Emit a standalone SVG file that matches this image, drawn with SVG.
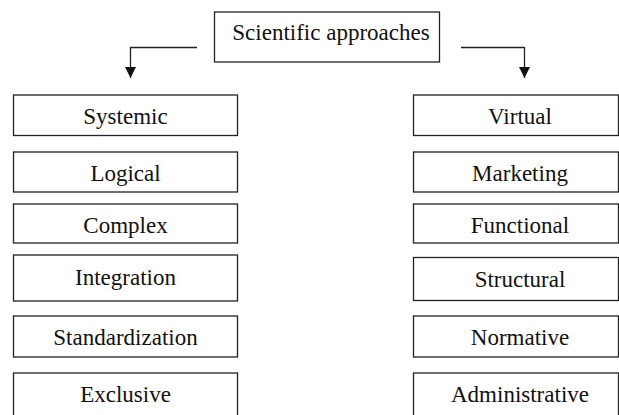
<svg xmlns="http://www.w3.org/2000/svg" width="619" height="415" viewBox="0 0 619 415">
<defs>
<style>
.box{fill:#fff;stroke:#222;stroke-width:1.3}
.lbl{font-family:"Liberation Serif","Times New Roman",serif;font-size:23px;fill:#111;text-anchor:middle}
.con{fill:none;stroke:#222;stroke-width:1.3}
</style>
<marker id="ah" viewBox="0 0 10 10" refX="10" refY="5" markerWidth="11" markerHeight="11" markerUnits="userSpaceOnUse" orient="auto">
<path d="M0,0 L10,5 L0,10 Z" fill="#111"/>
</marker>
</defs>
<rect width="619" height="415" fill="#fff"/>
<g id="connectors">
<path class="con" d="M197,47.5 H130.5 V78" marker-end="url(#ah)"/>
<path class="con" d="M461,47.5 H524.5 V78" marker-end="url(#ah)"/>
</g>
<g id="root"><rect class="box" x="214.5" y="12" width="225" height="50"/><text class="lbl" x="331" y="39.5">Scientific approaches</text></g>
<g id="systemic"><rect class="box" x="13.5" y="95" width="224" height="40.5"/><text class="lbl" x="125.5" y="123.5">Systemic</text></g>
<g id="logical"><rect class="box" x="13.5" y="152" width="224" height="40"/><text class="lbl" x="125.5" y="181">Logical</text></g>
<g id="complex"><rect class="box" x="13.5" y="204" width="224" height="39"/><text class="lbl" x="125.5" y="232.5">Complex</text></g>
<g id="integration"><rect class="box" x="13.5" y="255" width="224" height="46"/><text class="lbl" x="125.5" y="285">Integration</text></g>
<g id="standardization"><rect class="box" x="13.5" y="316" width="224" height="41"/><text class="lbl" x="125.5" y="345">Standardization</text></g>
<g id="exclusive"><rect class="box" x="13.5" y="373" width="224" height="50"/><text class="lbl" x="125.5" y="401.5">Exclusive</text></g>
<g id="virtual"><rect class="box" x="413.5" y="95" width="205" height="40.5"/><text class="lbl" x="520" y="123.5">Virtual</text></g>
<g id="marketing"><rect class="box" x="413.5" y="152" width="205" height="40"/><text class="lbl" x="520" y="181">Marketing</text></g>
<g id="functional"><rect class="box" x="413.5" y="204" width="205" height="39"/><text class="lbl" x="520" y="232.5">Functional</text></g>
<g id="structural"><rect class="box" x="413.5" y="257.5" width="205" height="43"/><text class="lbl" x="520" y="286.5">Structural</text></g>
<g id="normative"><rect class="box" x="413.5" y="316" width="205" height="41"/><text class="lbl" x="520" y="345">Normative</text></g>
<g id="administrative"><rect class="box" x="413.5" y="373" width="205" height="50"/><text class="lbl" x="520" y="401.5">Administrative</text></g>
</svg>
